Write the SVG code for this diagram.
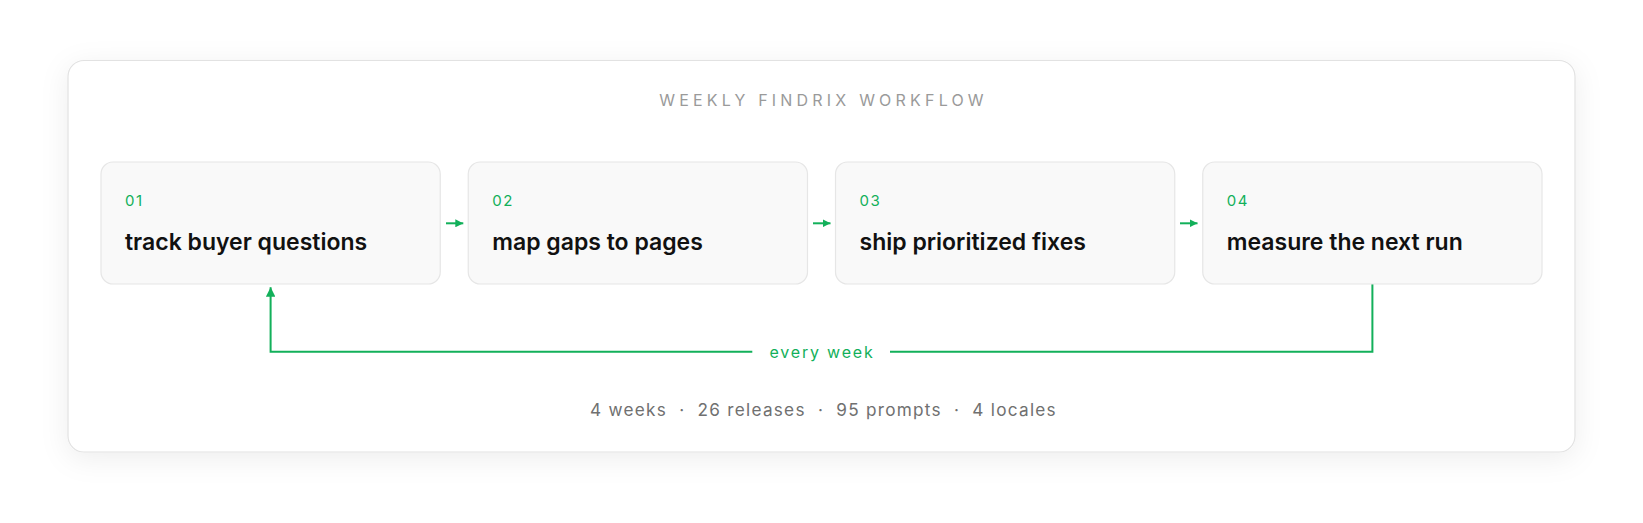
<svg xmlns="http://www.w3.org/2000/svg" width="1643" height="523" viewBox="0 0 1643 523">
  <style>
    .node-box { fill: #f9f9f9; stroke: #e6e6e6; stroke-width: 1.2; }
    .num { font-family: Inter, "Noto Sans", sans-serif; font-size: 15px; fill: #12b05a; letter-spacing: 1.6px; }
    .lbl { font-family: Inter, "Noto Sans", sans-serif; font-size: 23px; font-weight: 600; fill: #111111; }
    .title { font-family: Inter, "Noto Sans", sans-serif; font-size: 16px; fill: #9a9a9a; letter-spacing: 4.2px; }
    .loop-lbl { font-family: Inter, "Noto Sans", sans-serif; font-size: 16px; fill: #12b05a; letter-spacing: 1.8px; }
    .foot { font-family: Inter, "Noto Sans", sans-serif; font-size: 17.2px; fill: #707070; letter-spacing: 1.25px; white-space: pre; }
    .conn { stroke: #12b05a; stroke-width: 2; fill: none; }
  </style>
  <defs>
    <filter id="shadow" x="-10%" y="-20%" width="120%" height="140%">
      <feDropShadow dx="0" dy="6" stdDeviation="14" flood-color="#000000" flood-opacity="0.07"/>
    </filter>
    <marker id="arr" viewBox="0 0 10 10" refX="10" refY="5" markerWidth="8" markerHeight="8" markerUnits="userSpaceOnUse" orient="auto">
      <path d="M0,0 L10,5 L0,10 z" fill="#12b05a"/>
    </marker>
    <marker id="arrBig" viewBox="0 0 10 10" refX="10" refY="5" markerWidth="9.5" markerHeight="9.5" markerUnits="userSpaceOnUse" orient="auto">
      <path d="M0,0 L10,5 L0,10 z" fill="#12b05a"/>
    </marker>
  </defs>
  <rect width="1643" height="523" fill="#ffffff"/>
  <g id="card">
    <rect x="68" y="60.5" width="1507" height="391.5" rx="16" fill="#ffffff" stroke="#e2e2e2" stroke-width="1.2" filter="url(#shadow)"/>
    <text class="title" x="823.5" y="106" text-anchor="middle">WEEKLY FINDRIX WORKFLOW</text>
  </g>
  <g id="connectors">
    <line class="conn" x1="446" y1="223.3" x2="463.3" y2="223.3" marker-end="url(#arr)"/>
    <line class="conn" x1="813" y1="223.3" x2="830.5" y2="223.3" marker-end="url(#arr)"/>
    <line class="conn" x1="1180" y1="223.3" x2="1197.5" y2="223.3" marker-end="url(#arr)"/>
    <polyline class="conn" points="1372.4,284 1372.4,351.7 890,351.7"/>
    <polyline class="conn" points="752.3,351.7 270.6,351.7 270.6,287.3" marker-end="url(#arrBig)"/>
    <text class="loop-lbl" x="822" y="358" text-anchor="middle">every week</text>
  </g>
  <g id="node1">
    <rect class="node-box" x="101" y="162" width="339.25" height="122" rx="12"/>
    <text class="num" x="125" y="206">01</text>
    <text class="lbl" x="125" y="249.5">track buyer questions</text>
  </g>
  <g id="node2">
    <rect class="node-box" x="468.25" y="162" width="339.25" height="122" rx="12"/>
    <text class="num" x="492.25" y="206">02</text>
    <text class="lbl" x="492.25" y="249.5">map gaps to pages</text>
  </g>
  <g id="node3">
    <rect class="node-box" x="835.5" y="162" width="339.25" height="122" rx="12"/>
    <text class="num" x="859.5" y="206">03</text>
    <text class="lbl" x="859.5" y="249.5">ship prioritized fixes</text>
  </g>
  <g id="node4">
    <rect class="node-box" x="1202.75" y="162" width="339.25" height="122" rx="12"/>
    <text class="num" x="1226.75" y="206">04</text>
    <text class="lbl" x="1226.75" y="249.5">measure the next run</text>
  </g>
  <g id="footer">
    <text class="foot" x="823.5" y="416" text-anchor="middle" xml:space="preserve">4 weeks  ·  26 releases  ·  95 prompts  ·  4 locales</text>
  </g>
</svg>
